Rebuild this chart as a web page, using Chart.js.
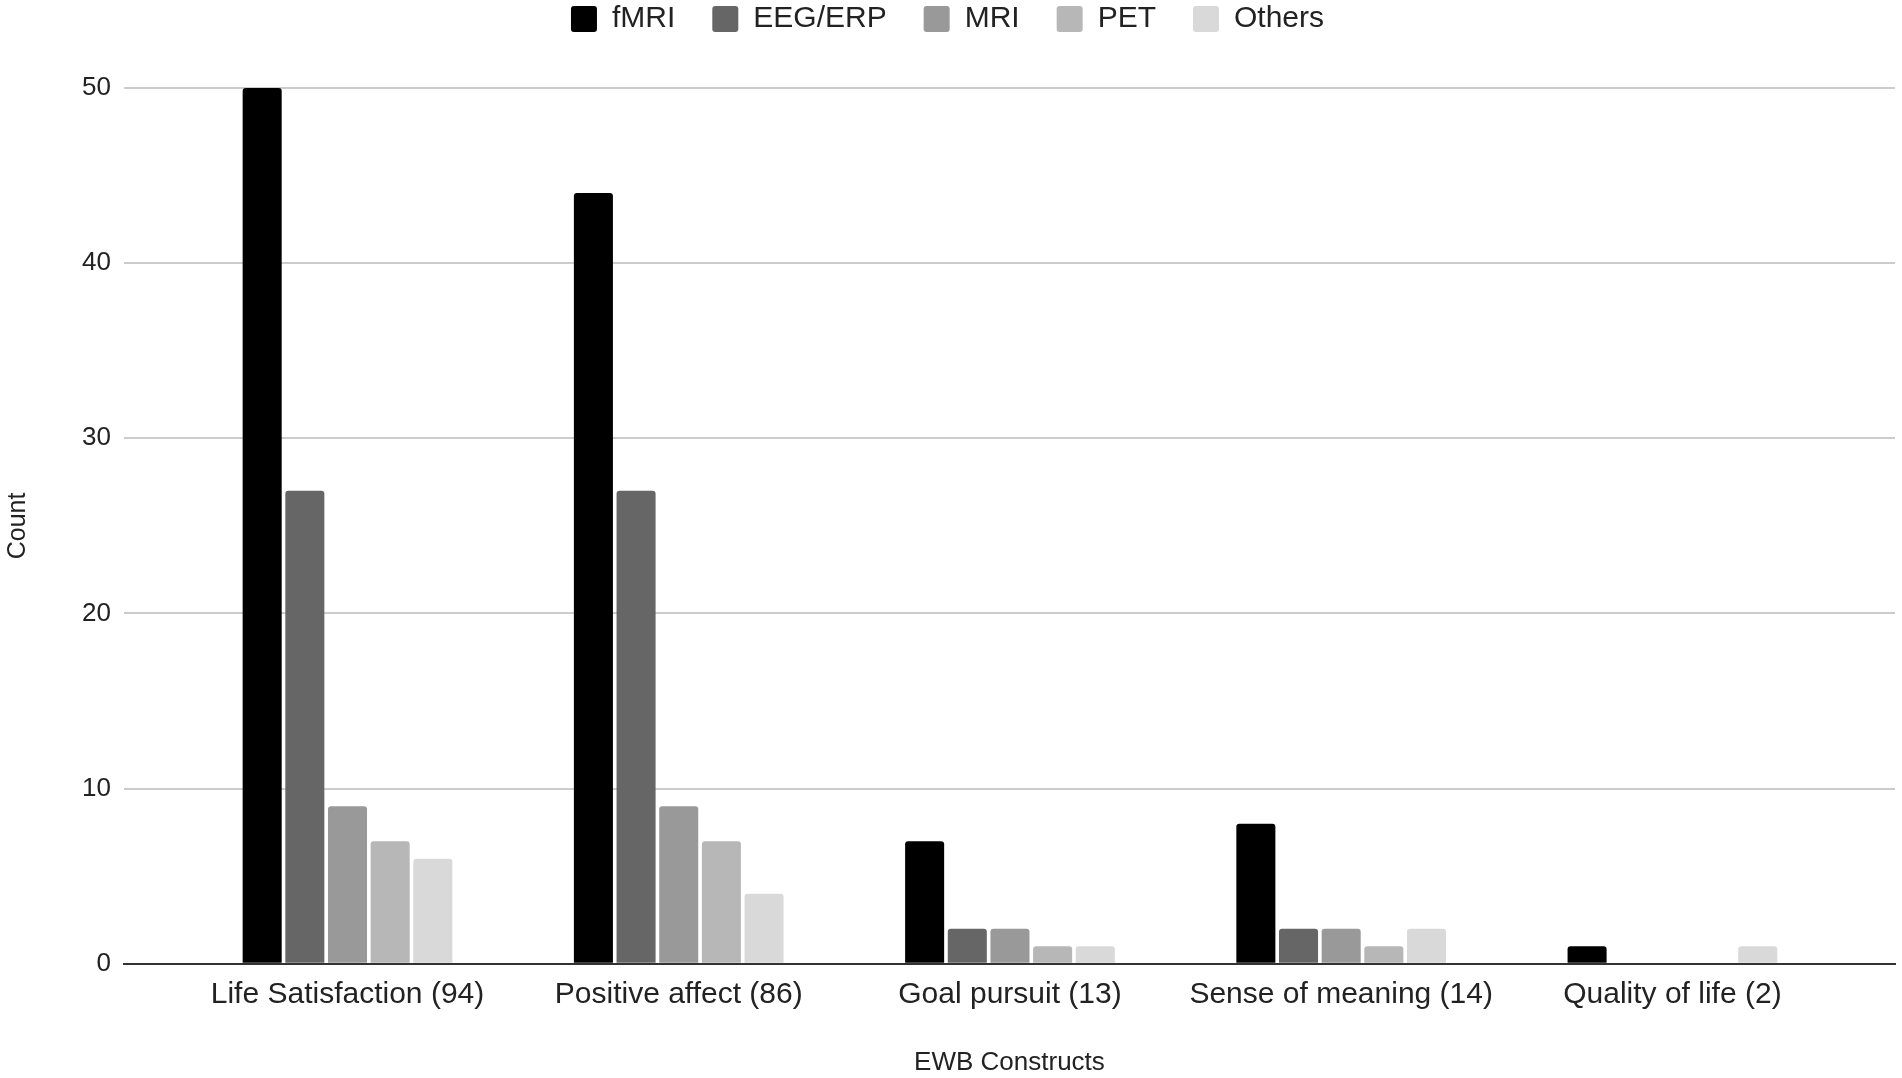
<!DOCTYPE html>
<html>
<head>
<meta charset="utf-8">
<script src="https://cdn.jsdelivr.net/npm/chart.js@4.4.1/dist/chart.umd.min.js"></script>
<style>
  html, body { margin: 0; padding: 0; background: #ffffff; overflow: hidden; }
  #wrap { width: 1902px; height: 1078px; }
</style>
</head>
<body>
<div id="wrap"><canvas id="chart" width="1902" height="1078"></canvas></div>
<script>
// ---- Data ----
const categories = ['Life Satisfaction (94)', 'Positive affect (86)', 'Goal pursuit (13)', 'Sense of meaning (14)', 'Quality of life (2)'];
const seriesNames = ['fMRI', 'EEG/ERP', 'MRI', 'PET', 'Others'];
const fmri   = [50, 44, 7, 8, 1];
const eegErp = [27, 27, 2, 2, 0];
const mri    = [9, 9, 2, 2, 0];
const pet    = [7, 7, 1, 1, 0];
const others = [6, 4, 1, 2, 1];
const yTickMax = 50;
const yTickStep = 10;
const xAxisTitle = 'EWB Constructs';
const yAxisTitle = 'Count';

// ---- Styles ----
const seriesColors = ['#000000', '#666666', '#999999', '#b7b7b7', '#d9d9d9'];
const seriesValues = [fmri, eegErp, mri, pet, others];

Chart.defaults.font.family = "'Liberation Sans', Arial, Helvetica, sans-serif";
Chart.defaults.color = '#222222';

const datasets = seriesNames.map((name, s) => ({
  label: name,
  data: seriesValues[s].map((v, i) => ({ x: i, y: v })),
  backgroundColor: seriesColors[s],
  borderWidth: 0,
  borderRadius: 3,
  categoryPercentage: 0.644,
  barPercentage: 0.915
}));

const legendGap = {
  id: 'legendGap',
  beforeLayout(chart) {
    const lg = chart.legend;
    if (lg && !lg.$gapPatched) {
      const fit = lg.fit;
      lg.fit = function () { fit.call(this); this.height += 44; };
      lg.$gapPatched = true;
    }
  }
};

new Chart(document.getElementById('chart'), {
  type: 'bar',
  data: { datasets },
  plugins: [legendGap],
  options: {
    responsive: false,
    animation: false,
    layout: { padding: { top: -33, left: 0, right: 7, bottom: 0 } },
    plugins: {
      legend: {
        position: 'top',
        align: 'center',
        labels: {
          font: { size: 30 },
          color: '#222222',
          boxWidth: 26,
          boxHeight: 26,
          padding: 37,
          useBorderRadius: true,
          borderRadius: 3
        }
      },
      tooltip: { enabled: false }
    },
    scales: {
      x: {
        type: 'linear',
        offset: false,
        min: -0.675,
        max: 4.672,
        grid: { display: false, drawTicks: false, offset: false },
        border: { display: true, color: '#333333', width: 2 },
        ticks: {
          stepSize: 1,
          includeBounds: false,
          autoSkip: false,
          maxRotation: 0,
          minRotation: 0,
          padding: 13,
          font: { size: 30 },
          color: '#222222',
          callback: (v) => (Number.isInteger(v) && categories[v] !== undefined) ? categories[v] : ''
        },
        title: {
          display: true,
          text: xAxisTitle,
          font: { size: 26 },
          color: '#222222',
          padding: { top: 21, bottom: 0 }
        }
      },
      y: {
        min: 0,
        max: yTickMax,
        grid: {
          drawTicks: false,
          lineWidth: 2,
          color: (ctx) => (ctx.tick && ctx.tick.value === 0) ? '#333333' : '#cccccc'
        },
        border: { display: false },
        ticks: {
          stepSize: yTickStep,
          padding: 13,
          font: { size: 26 },
          color: '#222222'
        },
        title: {
          display: true,
          text: yAxisTitle,
          font: { size: 25 },
          color: '#222222',
          padding: { top: 3, bottom: 36 }
        }
      }
    }
  }
});
</script>
</body>
</html>
